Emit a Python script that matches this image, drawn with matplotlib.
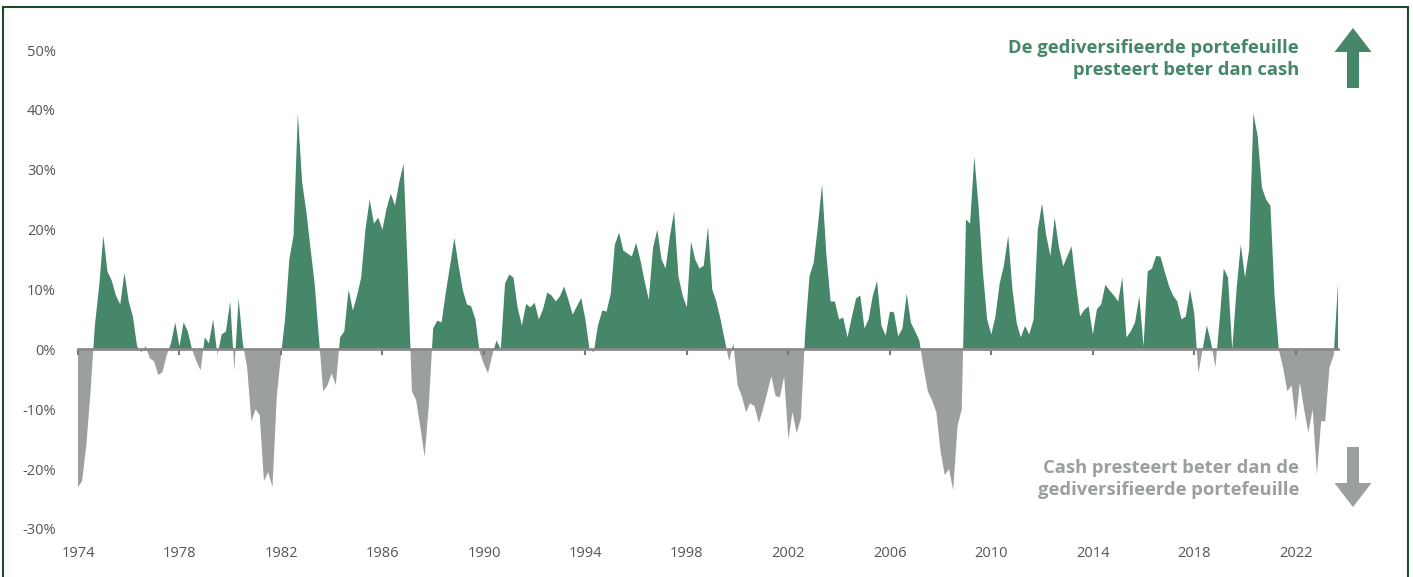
import numpy as np
import pandas as pd
import matplotlib
matplotlib.use("Agg")
import matplotlib.pyplot as plt
import matplotlib.dates as mdates
from matplotlib.patches import Polygon, Rectangle

# excess return of diversified portfolio vs cash (%), one value every two months from Jan 1974
vals_1970s = [
    -23, -22, -16, -7, 4, 10.5,        # 1974
    19, 13, 11.5, 9, 7.5, 12.8,        # 1975
    8, 5.5, 0.5, -0.5, 0.5, -1.5,      # 1976
    -2, -4.3, -3.8, -1, 1, 4.5,        # 1977
    0.5, 4.5, 3, 0, -2, -3.5,          # 1978
    2, 1, 5, -1, 2.5, 3,               # 1979
]
vals_1980s = [
    8, -3.5, 8.5, 1, -3, -12,          # 1980
    -10, -11, -22, -20.5, -23, -8,     # 1981
    -1, 5, 15, 19, 39.4, 28,           # 1982
    23, 17, 11, 2, -7, -6,             # 1983
    -4, -6, 2, 3, 10, 6.5,             # 1984
    9, 12, 20, 25, 21, 22,             # 1985
    20, 23.5, 26, 24, 28, 31,          # 1986
    13, -7, -8.5, -13, -18, -9,        # 1987
    3.5, 4.8, 4.5, 9.5, 14, 18.6,      # 1988
    14, 10, 7.5, 7.2, 5, -0.5,         # 1989
]
vals_1990s = [
    -2.5, -4, -1, 1.5, 0, 11,          # 1990
    12.5, 12, 7, 4, 7.6, 7,            # 1991
    7.8, 5, 6.7, 9.5, 9, 8,            # 1992
    8.9, 10.5, 8.3, 5.8, 7.2, 8.6,     # 1993
    5, 0, -0.5, 4, 6.5, 6.3,           # 1994
    9.3, 17.5, 19.5, 16.5, 16, 15.5,   # 1995
    17.8, 15, 11.5, 8.3, 17, 20,       # 1996
    15, 13.5, 18.9, 23, 12.2, 9,       # 1997
    7, 18, 15, 13.5, 14, 20.5,         # 1998
    10, 8, 5, 1.5, -2, 1,              # 1999
]
vals_2000s = [
    -6, -7.8, -10.5, -9, -9.5, -12.3,  # 2000
    -10, -7.3, -4.5, -7.8, -8, -4.5,   # 2001
    -15, -10.5, -14, -11.5, 3, 12.2,   # 2002
    14.5, 20.5, 27.6, 16, 8, 8,        # 2003
    5, 5.3, 2, 5.3, 8.5, 9,            # 2004
    3.5, 5, 9, 11.4, 4, 2.3,           # 2005
    6.3, 6.2, 2.2, 3.5, 9.3, 4.4,      # 2006
    3, 1.5, -3, -7, -8.5, -10.5,       # 2007
    -17, -21, -20, -23.5, -12.8, -10,  # 2008
    21.7, 21, 32.2, 23.9, 13, 5,       # 2009
]
vals_2010s = [
    2.5, 5.5, 11, 14, 19, 10,          # 2010
    4.4, 2, 3.9, 2.5, 5, 20,           # 2011
    24.4, 19, 15.6, 22, 17, 13.9,      # 2012
    15.6, 17.2, 11, 5.5, 6.6, 7.2,     # 2013
    2.5, 6.7, 7.5, 10.8, 9.8, 9,       # 2014
    8, 12, 2, 3, 4.5, 8.9,             # 2015
    0.5, 13, 13.5, 15.6, 15.5, 13,     # 2016
    10.6, 9, 8, 5, 5.5, 10,            # 2017
    6, -4, 0, 4, 1, -3,                # 2018
    5, 13.5, 12, 0, 10, 17.5,          # 2019
]
vals_2020s = [
    12, 16.7, 39.4, 35.6, 27, 25,      # 2020
    24, 9, 0, -3, -7, -6,              # 2021
    -12, -5.5, -10, -13.9, -10, -21,   # 2022
    -12, -12, -3, -1, 11,              # 2023
]

tick_years = list(range(1974, 2023, 4))
y_ticks = [-30, -20, -10, 0, 10, 20, 30, 40, 50]

green = "#458768"
grey = "#9b9fa0"

values = np.array(vals_1970s + vals_1980s + vals_1990s + vals_2000s + vals_2010s + vals_2020s)
dates = pd.date_range("1974-01-01", periods=len(values), freq="2MS")

plt.rcParams["font.family"] = ["Open Sans", "DejaVu Sans"]

W, H = 1413, 577
fig = plt.figure(figsize=(W / 100, H / 100), dpi=100)
ax = fig.add_axes([78 / W, 1 - 529 / H, (1346.5 - 78) / W, (529 - 50) / H])

ax.fill_between(dates, values, 0, where=values >= 0, interpolate=True, color=green, lw=0)
ax.fill_between(dates, values, 0, where=values <= 0, interpolate=True, color=grey, lw=0)

ax.set_xlim(pd.Timestamp("1974-01-01"), pd.Timestamp("2024-01-01"))
ax.set_ylim(-30, 50)

# zero line with small year ticks
for s in ["top", "right", "left"]:
    ax.spines[s].set_visible(False)
ax.spines["bottom"].set_position(("data", 0))
ax.spines["bottom"].set_bounds(mdates.date2num(dates[0]), mdates.date2num(dates[-1]))
ax.spines["bottom"].set_color("#8a8a8a")
ax.spines["bottom"].set_linewidth(2)
ax.spines["bottom"].set_zorder(5)
tick_dates = [pd.Timestamp(f"{y}-01-01") for y in tick_years]
ax.set_xticks(tick_dates)
ax.tick_params(axis="x", length=4, width=1.5, color="#777777", labelbottom=False)

# year labels at the bottom
sec = ax.secondary_xaxis("bottom")
sec.set_xticks(tick_dates)
sec.set_xticklabels([str(y) for y in tick_years])
sec.spines["bottom"].set_visible(False)
sec.tick_params(length=0, pad=12, labelsize=10.5, labelcolor="#555555")

ax.set_yticks(y_ticks)
ax.set_yticklabels([f"{v}%" for v in y_ticks])
ax.tick_params(axis="y", length=0, pad=16, labelsize=10.5, labelcolor="#555555")

# annotations
fig.text(1299 / W, 1 - 59 / H, "De gediversifieerde portefeuille\npresteert beter dan cash",
         ha="right", va="center", fontsize=13.2, fontweight="bold", color=green,
         linespacing=1.28, multialignment="right")
fig.text(1299 / W, 1 - 479 / H, "Cash presteert beter dan de\ngediversifieerde portefeuille",
         ha="right", va="center", fontsize=13.2, fontweight="bold", color=grey,
         linespacing=1.28, multialignment="right")


def arrow(cx, y_tail, y_tip, color):
    # pixel coordinates measured from the top
    d = 1 if y_tip > y_tail else -1
    head = 24
    pts = [(cx - 6, y_tail), (cx + 6, y_tail), (cx + 6, y_tip - d * head),
           (cx + 18.5, y_tip - d * head), (cx, y_tip), (cx - 18.5, y_tip - d * head),
           (cx - 6, y_tip - d * head)]
    pts = [(x, H - y) for x, y in pts]
    fig.patches.append(Polygon(pts, closed=True, color=color, lw=0, transform=None))


arrow(1353, 88, 28, green)
arrow(1353, 447, 507, grey)

# frame around the figure
fig.patches.append(Rectangle((3, -10), 1405, H - 7 + 10, fill=False,
                             edgecolor="#1d4a2b", lw=1.5, transform=None))

fig.savefig("out.png", dpi=100)
